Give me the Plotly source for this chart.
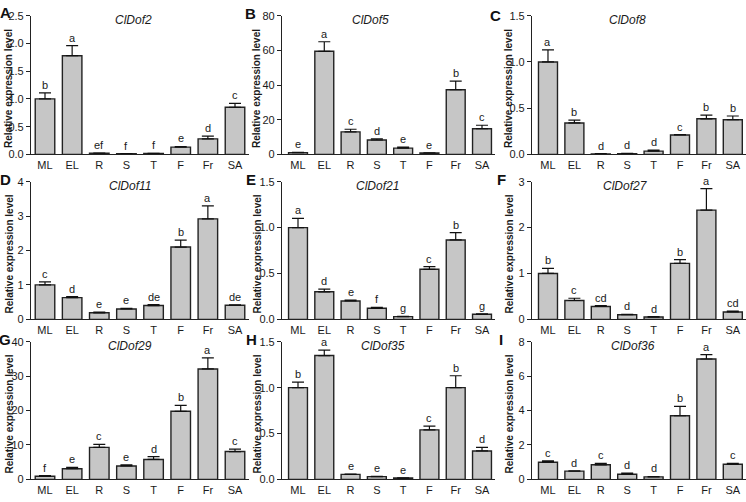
import plotly.graph_objects as go

W, H = 746, 502

categories = ["ML", "EL", "R", "S", "T", "F", "Fr", "SA"]

genes = ["ClDof2", "ClDof5", "ClDof8", "ClDof11", "ClDof21", "ClDof27", "ClDof29", "ClDof35", "ClDof36"]
panel_letters = ["A", "B", "C", "D", "E", "F", "G", "H", "I"]

dof2_mean = [1.0, 1.78, 0.02, 0.01, 0.015, 0.13, 0.28, 0.85]
dof2_err = [0.11, 0.18, 0.005, 0.003, 0.004, 0.012, 0.05, 0.07]
dof2_sig = ["b", "a", "ef", "f", "f", "e", "d", "c"]

dof5_mean = [1.0, 59.5, 13.0, 8.3, 3.6, 0.8, 37.3, 14.8]
dof5_err = [0.2, 5.5, 1.5, 0.7, 0.6, 0.1, 5.0, 2.0]
dof5_sig = ["e", "a", "c", "d", "e", "e", "b", "c"]

dof8_mean = [1.0, 0.34, 0.005, 0.008, 0.035, 0.21, 0.385, 0.375]
dof8_err = [0.13, 0.03, 0.002, 0.002, 0.01, 0.005, 0.04, 0.04]
dof8_sig = ["a", "b", "d", "d", "d", "c", "b", "b"]

dof11_mean = [1.0, 0.63, 0.19, 0.30, 0.40, 2.10, 2.92, 0.41]
dof11_err = [0.09, 0.03, 0.02, 0.02, 0.03, 0.20, 0.38, 0.01]
dof11_sig = ["c", "d", "e", "e", "de", "b", "a", "de"]

dof21_mean = [1.0, 0.30, 0.20, 0.12, 0.03, 0.545, 0.865, 0.055]
dof21_err = [0.10, 0.03, 0.01, 0.01, 0.003, 0.03, 0.08, 0.005]
dof21_sig = ["a", "d", "e", "f", "g", "c", "b", "g"]

dof27_mean = [1.0, 0.41, 0.28, 0.10, 0.05, 1.22, 2.38, 0.16]
dof27_err = [0.11, 0.05, 0.02, 0.01, 0.01, 0.08, 0.47, 0.02]
dof27_sig = ["b", "c", "cd", "d", "d", "b", "a", "cd"]

dof29_mean = [0.9, 3.1, 9.3, 3.9, 5.8, 19.8, 32.1, 8.1]
dof29_err = [0.2, 0.4, 0.9, 0.3, 0.8, 1.7, 3.2, 0.7]
dof29_sig = ["f", "e", "c", "e", "d", "b", "a", "c"]

dof35_mean = [1.0, 1.35, 0.055, 0.03, 0.015, 0.54, 1.0, 0.31]
dof35_err = [0.06, 0.06, 0.003, 0.003, 0.003, 0.04, 0.13, 0.04]
dof35_sig = ["b", "a", "e", "e", "e", "c", "b", "d"]

dof36_mean = [1.0, 0.48, 0.85, 0.30, 0.15, 3.70, 7.00, 0.88]
dof36_err = [0.08, 0.02, 0.08, 0.06, 0.02, 0.55, 0.25, 0.05]
dof36_sig = ["c", "d", "c", "d", "d", "b", "a", "c"]

means = [dof2_mean, dof5_mean, dof8_mean, dof11_mean, dof21_mean, dof27_mean, dof29_mean, dof35_mean, dof36_mean]
errs = [dof2_err, dof5_err, dof8_err, dof11_err, dof21_err, dof27_err, dof29_err, dof35_err, dof36_err]
sigs = [dof2_sig, dof5_sig, dof8_sig, dof11_sig, dof21_sig, dof27_sig, dof29_sig, dof35_sig, dof36_sig]

y_max = [2.5, 80, 1.5, 4, 1.5, 3, 40, 1.5, 8]
y_step = [0.5, 20, 0.5, 1, 0.5, 1, 10, 0.5, 2]
y_fmt = [".1f", "d", ".1f", "d", ".1f", "d", "d", ".1f", "d"]

# layout geometry (pixels)
col_axis = [31, 282, 532]
col_first = [45, 298, 548]
col_last = [235, 482, 733]
row_top = [10, 180, 344]
row_base = [152, 321, 485]
title_x = [133, 370, 627, 130, 377, 625, 130, 383, 633]
ylab_x = [9, 257, 509]
letter_xy = [(5, 7), (250, 8), (495, 10), (5, 178), (251, 178), (501, 178), (5, 342), (251, 342), (501, 342)]

font_family = "Liberation Sans, Arial, sans-serif"
fig = go.Figure()
annotations = []
layout = {}

for i in range(9):
    r, c = divmod(i, 3)
    idx = "" if i == 0 else str(i + 1)
    xa, ya = "x" + idx, "y" + idx
    s = (col_last[c] - col_first[c]) / 7.0
    x_lo = -(col_first[c] - col_axis[c]) / s
    right_px = col_last[c] + 0.5 * s
    fig.add_trace(go.Bar(
        x=list(range(8)), y=means[i], xaxis=xa, yaxis=ya, width=0.72,
        marker=dict(color="#c6c6c6", line=dict(color="#222222", width=1.4)),
        error_y=dict(type="data", symmetric=False, array=errs[i],
                     arrayminus=[0] * 8, color="#111111", thickness=1.2, width=6),
        showlegend=False, hoverinfo="skip",
    ))
    layout["xaxis" + idx] = dict(
        domain=[col_axis[c] / W, min(right_px, W) / W], anchor=ya,
        range=[x_lo, 7.5], tickmode="array", tickvals=list(range(8)),
        ticktext=categories, showline=True, linecolor="#222222", linewidth=1.2,
        ticks="", showgrid=False, zeroline=False,
        tickfont=dict(size=11, color="#1a1a1a", family=font_family), fixedrange=True,
    )
    nt = int(round(y_max[i] / y_step[i]))
    tv = [k * y_step[i] for k in range(nt + 1)]
    layout["yaxis" + idx] = dict(
        domain=[1 - row_base[r] / H, 1 - row_top[r] / H], anchor=xa,
        range=[0, y_max[i]], tickmode="array", tickvals=tv,
        tickformat=y_fmt[i], showline=True, linecolor="#222222", linewidth=1.2,
        ticks="outside", ticklen=4, tickwidth=1.2, tickcolor="#222222",
        showgrid=False, zeroline=False,
        tickfont=dict(size=11, color="#1a1a1a", family=font_family), fixedrange=True,
    )
    for k in range(8):
        annotations.append(dict(
            x=k, y=means[i][k] + errs[i][k], xref=xa, yref=ya,
            text=sigs[i][k], showarrow=False, yanchor="bottom", yshift=0,
            font=dict(size=11, color="#1a1a1a", family=font_family),
        ))
    annotations.append(dict(
        x=title_x[i] / W, y=1 - (row_top[r] + 4) / H, xref="paper", yref="paper",
        text="<i>" + genes[i] + "</i>", showarrow=False, xanchor="center", yanchor="middle",
        font=dict(size=12, color="#1a1a1a", family=font_family),
    ))
    lx, ly = letter_xy[i]
    annotations.append(dict(
        x=lx / W, y=1 - ly / H, xref="paper", yref="paper",
        text="<b>" + panel_letters[i] + "</b>", showarrow=False, xanchor="center", yanchor="middle",
        font=dict(size=15, color="#111111", family=font_family),
    ))
    annotations.append(dict(
        x=ylab_x[c] / W, y=1 - ((row_top[r] + row_base[r]) / 2 + 4) / H, xref="paper", yref="paper",
        text="<b>Relative expression level</b>", showarrow=False, textangle=-90,
        xanchor="center", yanchor="middle",
        font=dict(size=10, color="#1a1a1a", family=font_family),
    ))

fig.update_layout(
    width=W, height=H, margin=dict(l=0, r=0, t=0, b=0),
    paper_bgcolor="white", plot_bgcolor="white",
    annotations=annotations, bargap=0.28, **layout,
)
fig.write_html(
    "out.html",
    config={"displayModeBar": False},
    post_script="document.body.style.margin='0';document.body.style.overflow='hidden';",
)
